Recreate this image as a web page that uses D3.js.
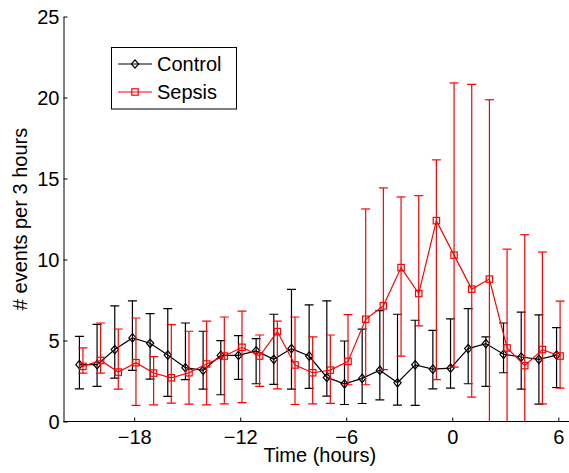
<!DOCTYPE html>
<html>
<head>
<meta charset="utf-8">
<script src="https://cdn.jsdelivr.net/npm/d3@7"></script>
<style>
  html, body { margin: 0; padding: 0; background: #fff; }
  svg { display: block; font-family: "Liberation Sans", Arial, Helvetica, sans-serif; }
</style>
</head>
<body>
<svg id="chart" width="569" height="473"></svg>
<script>
// ---- data ----
const hours = [-21,-20,-19,-18,-17,-16,-15,-14,-13,-12,-11,-10,-9,-8,-7,-6,-5,-4,-3,-2,-1,0,1,2,3,4,5,6];

const controlMean  = [3.51,3.51,4.44,5.16,4.83,4.10,3.32,3.16,4.08,4.08,4.36,3.84,4.50,4.04,2.72,2.33,2.66,3.16,2.39,3.50,3.23,3.29,4.50,4.81,4.15,3.98,3.84,4.10];
const controlLower = [2.02,2.17,2.68,3.16,2.62,1.55,2.58,2.00,1.65,2.60,2.33,2.29,2.00,2.04,1.57,1.05,1.11,1.34,1.01,1.00,2.02,2.06,2.33,2.17,3.01,2.00,1.07,2.10];
const controlUpper = [5.26,6.00,7.14,7.45,6.66,6.97,6.08,5.57,4.99,5.30,5.12,6.62,8.15,7.20,7.45,4.97,5.70,6.85,6.62,6.25,5.63,6.33,6.97,5.22,6.08,6.75,6.58,5.80];

const sepsisMean  = [3.40,3.77,3.05,3.63,2.99,2.70,3.01,3.55,4.04,4.58,4.04,5.55,3.49,3.01,3.17,3.71,6.31,7.14,9.50,7.90,12.40,10.27,8.17,8.79,4.54,3.45,4.44,4.04];
const sepsisLower = [2.99,2.99,2.00,0.99,1.03,1.13,1.07,1.03,1.09,1.16,2.17,2.02,1.05,1.09,1.12,2.27,2.27,3.20,4.04,5.90,2.58,3.36,1.50,-2.30,-1.60,-4.60,1.09,2.06];
const sepsisUpper = [4.54,6.08,5.71,6.39,4.00,5.98,5.57,6.19,6.45,6.81,5.34,6.19,6.45,5.22,5.34,6.60,13.12,14.42,13.86,13.94,16.15,20.90,20.81,19.86,10.64,11.53,10.46,7.43];

const xTicks = [-18,-12,-6,0,6];
const yTicks = [0,5,10,15,20,25];
const seriesNames = ["Control","Sepsis"];
const seriesColors = ["#000000","#ff0000"];
const dodge = [-0.1, 0.1];
const xLabel = "Time (hours)";
const yLabel = "# events per 3 hours";

// ---- layout ----
const svg = d3.select("#chart");
const W = 569, H = 473;
svg.append("rect").attr("width", W).attr("height", H).attr("fill", "#fff");

const x = d3.scaleLinear().domain([-22, 7]).range([63.5, 576]);
const y = d3.scaleLinear().domain([0, 25]).range([421.5, 16.5]);

svg.append("clipPath").attr("id", "plotclip")
  .append("rect").attr("x", 63.5).attr("y", 0).attr("width", 520).attr("height", 421.5);

const series = [
  { name: seriesNames[0], color: seriesColors[0], off: dodge[0], mean: controlMean, lo: controlLower, hi: controlUpper, marker: "diamond" },
  { name: seriesNames[1], color: seriesColors[1], off: dodge[1], mean: sepsisMean, lo: sepsisLower, hi: sepsisUpper, marker: "square" }
];

const plot = svg.append("g").attr("clip-path", "url(#plotclip)");
const capW = 4.5;
const lw = 1.2;

function drawMarker(g, type, cx, cy, color) {
  if (type === "diamond") {
    g.append("path")
      .attr("d", `M${cx},${cy-4.2}L${cx+3.6},${cy}L${cx},${cy+4.2}L${cx-3.6},${cy}Z`)
      .attr("fill", "none").attr("stroke", color).attr("stroke-width", lw);
  } else {
    g.append("rect")
      .attr("x", cx - 3.2).attr("y", cy - 3.2).attr("width", 6.4).attr("height", 6.4)
      .attr("fill", "none").attr("stroke", color).attr("stroke-width", lw);
  }
}

series.forEach(s => {
  const g = plot.append("g");
  const pts = hours.map((h, i) => ({ t: h + s.off, m: s.mean[i], lo: s.lo[i], hi: s.hi[i] }));
  // error bars
  pts.forEach(p => {
    const cx = x(p.t);
    g.append("line").attr("x1", cx).attr("x2", cx).attr("y1", y(p.lo)).attr("y2", y(p.hi))
      .attr("stroke", s.color).attr("stroke-width", lw);
    [p.lo, p.hi].forEach(v => {
      g.append("line").attr("x1", cx - capW).attr("x2", cx + capW).attr("y1", y(v)).attr("y2", y(v))
        .attr("stroke", s.color).attr("stroke-width", lw);
    });
  });
  // line
  g.append("path").datum(pts)
    .attr("d", d3.line().x(d => x(d.t)).y(d => y(d.m)))
    .attr("fill", "none").attr("stroke", s.color).attr("stroke-width", lw);
  // markers
  pts.forEach(p => drawMarker(g, s.marker, x(p.t), y(p.m), s.color));
});

// ---- axes ----
const fontSize = 20;
const xAxis = d3.axisBottom(x).tickValues(xTicks).tickSizeInner(-4).tickSizeOuter(0).tickFormat(d3.format("d"));
const gx = svg.append("g").attr("transform", `translate(0,${y(0)})`).call(xAxis);
gx.select(".domain").attr("stroke", "#000").attr("d", `M${x.range()[0]},0H${W + 5}`);
gx.selectAll(".tick line").attr("stroke", "#000");
gx.selectAll(".tick text").attr("y", 22.5).attr("dy", 0)
  .attr("font-size", fontSize).attr("fill", "#000").attr("font-family", "Liberation Sans, Arial, sans-serif");

const yAxis = d3.axisLeft(y).tickValues(yTicks).tickSizeInner(-4).tickSizeOuter(0).tickPadding(4).tickFormat(d3.format("d"));
const gy = svg.append("g").attr("transform", `translate(${x.range()[0]},0)`).call(yAxis);
gy.select(".domain").attr("stroke", "#000");
gy.selectAll(".tick line").attr("stroke", "#000");
gy.selectAll(".tick text").attr("font-size", fontSize).attr("fill", "#000").attr("dy", "0.35em")
  .attr("font-family", "Liberation Sans, Arial, sans-serif");

// axis labels
svg.append("text").attr("x", (x(-22) + x(7)) / 2).attr("y", 461.5)
  .attr("text-anchor", "middle").attr("font-size", fontSize).attr("fill", "#000").text(xLabel);
svg.append("text").attr("transform", `translate(27,${(y(0) + y(25)) / 2}) rotate(-90)`)
  .attr("text-anchor", "middle").attr("font-size", fontSize).attr("fill", "#000").text(yLabel);

// ---- legend ----
const leg = svg.append("g");
leg.append("rect").attr("x", 111.5).attr("y", 47.5).attr("width", 125).attr("height", 61.5)
  .attr("fill", "#fff").attr("stroke", "#000").attr("stroke-width", 1);
series.forEach((s, i) => {
  const ly = 64 + i * 28;
  leg.append("line").attr("x1", 118).attr("x2", 152).attr("y1", ly).attr("y2", ly)
    .attr("stroke", s.color).attr("stroke-width", lw);
  drawMarker(leg, s.marker, 135, ly, s.color);
  leg.append("text").attr("x", 157).attr("y", ly + 7).attr("font-size", fontSize).attr("fill", "#000").text(s.name);
});
</script>
</body>
</html>
